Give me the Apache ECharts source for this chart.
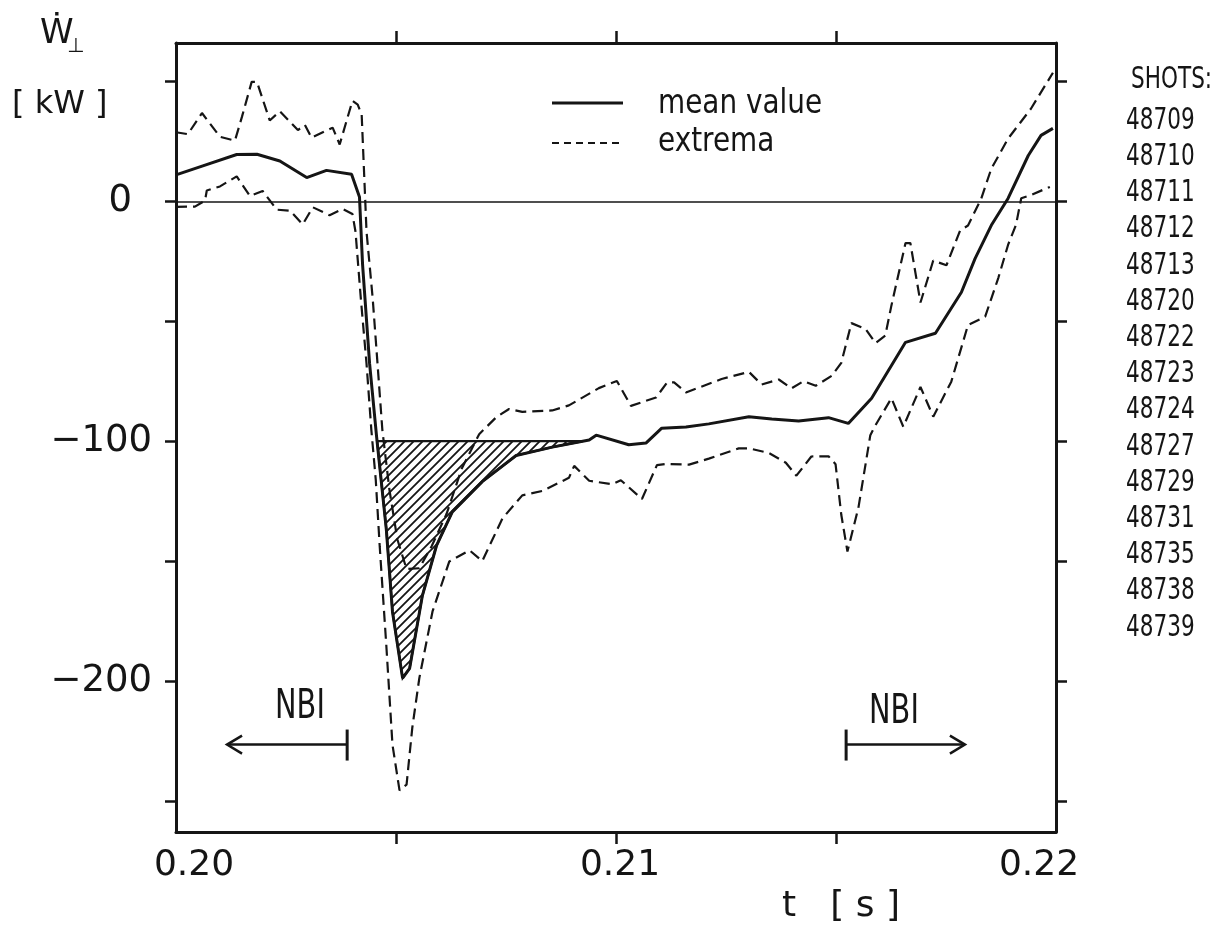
<!DOCTYPE html>
<html>
<head>
<meta charset="utf-8">
<script src="https://cdn.jsdelivr.net/npm/echarts@6/dist/echarts.min.js"></script>
<style>
  html, body { margin: 0; padding: 0; background: #ffffff; }
  #chart { width: 1224px; height: 930px; }
</style>
</head>
<body>
<div id="chart"></div>
<script>
// Time axis [s] and perpendicular energy change rate dW/dt [kW]
const meanTime = [0.20000,0.20061,0.20138,0.20184,0.20236,0.20297,0.20342,0.20399,0.20417,0.20424,
  0.20440,0.20456,0.20478,0.20492,0.20515,0.20531,0.20560,0.20592,0.20628,0.20696,
  0.20773,0.20855,0.20939,0.20955,0.21029,0.21068,0.21104,0.21159,0.21211,0.21302,
  0.21354,0.21415,0.21483,0.21528,0.21581,0.21658,0.21726,0.21785,0.21816,0.21853,
  0.21891,0.21937,0.21966,0.21993];
const meanPower = [11.0,14.8,19.5,19.6,16.8,9.9,12.9,11.3,1.8,-26.3,
  -67.7,-98.3,-136.8,-171.1,-198.8,-194.7,-164.4,-143.6,-129.5,-116.9,
  -106.0,-102.5,-99.5,-97.5,-101.5,-100.8,-94.6,-94.1,-92.8,-89.8,
  -90.8,-91.6,-90.2,-92.6,-82.1,-58.8,-55.0,-37.9,-23.9,-10.0,
  1.2,19.1,27.5,30.4];

const upperTime = [0.20000,0.20027,0.20059,0.20100,0.20134,0.20150,0.20172,0.20184,0.20213,0.20236,
  0.20277,0.20293,0.20308,0.20356,0.20372,0.20401,0.20413,0.20422,0.20433,0.20447,
  0.20458,0.20469,0.20485,0.20503,0.20524,0.20553,0.20581,0.20615,0.20649,0.20689,
  0.20728,0.20757,0.20787,0.20855,0.20893,0.20961,0.21002,0.21034,0.21091,0.21116,
  0.21132,0.21159,0.21240,0.21302,0.21331,0.21370,0.21399,0.21426,0.21454,0.21490,
  0.21512,0.21535,0.21567,0.21590,0.21612,0.21626,0.21658,0.21669,0.21692,0.21721,
  0.21751,0.21782,0.21800,0.21830,0.21853,0.21891,0.21943,0.21993];
const upperPower = [28.8,28.0,36.8,26.9,25.3,35.3,49.8,49.8,33.7,37.5,
  29.7,31.8,26.5,30.7,23.7,41.9,40.3,36.1,-12.6,-40.4,
  -67.7,-95.4,-120.2,-140.9,-153.3,-153.0,-143.8,-130.3,-111.6,-97.1,
  -90.0,-86.6,-87.8,-87.2,-85.1,-77.9,-74.9,-85.3,-81.8,-75.6,
  -75.5,-79.7,-74.1,-71.1,-76.4,-74.3,-78.0,-75.0,-76.9,-72.8,
  -67.4,-50.8,-53.2,-59.1,-56.0,-43.4,-17.4,-17.4,-42.2,-24.7,
  -26.7,-12.2,-10.1,1.1,13.6,26.1,38.6,53.6];

const lowerTime = [0.20000,0.20043,0.20066,0.20070,0.20100,0.20138,0.20168,0.20197,0.20229,0.20259,
  0.20288,0.20311,0.20349,0.20379,0.20401,0.20408,0.20420,0.20433,0.20444,0.20454,
  0.20463,0.20478,0.20492,0.20508,0.20524,0.20537,0.20553,0.20583,0.20621,0.20667,
  0.20696,0.20742,0.20787,0.20832,0.20893,0.20905,0.20939,0.20991,0.21011,0.21059,
  0.21093,0.21113,0.21166,0.21211,0.21279,0.21302,0.21347,0.21386,0.21410,0.21444,
  0.21483,0.21499,0.21512,0.21526,0.21551,0.21578,0.21590,0.21626,0.21653,0.21692,
  0.21721,0.21762,0.21800,0.21839,0.21869,0.21891,0.21909,0.21921,0.21943,0.21986];
const lowerPower = [-2.3,-2.2,0.3,4.5,6.2,10.4,2.2,4.3,-3.5,-3.9,
  -9.6,-2.5,-5.8,-3.2,-5.3,-12.7,-40.4,-67.7,-95.4,-116.1,
  -143.9,-185.2,-226.6,-245.6,-243.2,-219.5,-198.8,-171.0,-150.2,-145.5,
  -150.0,-132.2,-122.6,-120.8,-115.3,-110.3,-116.5,-118.0,-116.3,-124.1,
  -110.0,-109.5,-109.8,-107.3,-103.0,-103.0,-104.9,-109.0,-114.4,-106.4,
  -106.3,-109.6,-130.7,-146.0,-127.7,-97.5,-93.3,-82.1,-94.0,-77.4,
  -89.8,-75.2,-51.6,-48.1,-31.9,-18.2,-9.9,1.3,2.6,6.0];

// Axis ticks and labels
const xTickValues = [0.205, 0.21, 0.215];
const xLabelValues = [0.20, 0.21, 0.22];
const yTickValues = [-250, -200, -150, -100, -50, 0, 50];
const yLabelValues = [-200, -100, 0];

// Level bounding the hatched energy deficit under the mean curve
const hatchLevel = -100;

// NBI switch-off / switch-on markers (time of switch, arrow tip time, height)
const nbiOff = { at: 0.20389, tip: 0.20116, level: -226.5 };
const nbiOn  = { at: 0.21523, tip: 0.21793, level: -226.5 };

const shots = ['48709','48710','48711','48712','48713','48720','48722','48723',
  '48724','48727','48729','48731','48735','48738','48739'];

const INK = '#151515';
const SANS = '"DejaVu Sans", "Liberation Sans", sans-serif';

const zip = (ts, ws) => ts.map((t, i) => [t, ws[i]]);

// Region between the mean curve and the hatch level (first dip only)
function hatchRegion() {
  const pts = [];
  let inside = false;
  for (let i = 1; i < meanTime.length; i++) {
    const t0 = meanTime[i - 1], w0 = meanPower[i - 1];
    const t1 = meanTime[i], w1 = meanPower[i];
    const cross = () => [t0 + (t1 - t0) * (hatchLevel - w0) / (w1 - w0), hatchLevel];
    if (!inside && w0 >= hatchLevel && w1 < hatchLevel) { inside = true; pts.push(cross()); }
    if (inside) {
      if (w1 < hatchLevel) pts.push([t1, w1]);
      else { pts.push(cross()); break; }
    }
  }
  return pts;
}
const hatchPts = hatchRegion();

// Diagonal hatch tile
function hatchTile() {
  const s = 9;
  const c = document.createElement('canvas');
  c.width = s; c.height = s;
  const g = c.getContext('2d');
  g.strokeStyle = INK;
  g.lineWidth = 1.8;
  g.beginPath();
  g.moveTo(-1, s + 1); g.lineTo(s + 1, -1);
  g.moveTo(-1, 1); g.lineTo(1, -1);
  g.moveTo(s - 1, s + 1); g.lineTo(s + 1, s - 1);
  g.stroke();
  return c;
}
const hatchPattern = { image: hatchTile(), repeat: 'repeat' };

const chart = echarts.init(document.getElementById('chart'), null, { renderer: 'canvas' });

const axisLine = { show: true, onZero: false, lineStyle: { color: INK, width: 3 } };
const tickStyle = { color: INK, width: 2.5 };

chart.setOption({
  animation: false,
  backgroundColor: '#ffffff',
  grid: { left: 176, right: 168, top: 43, bottom: 93, containLabel: false },
  xAxis: [
    {
      type: 'value', min: 0.20, max: 0.22, position: 'bottom',
      axisLine: axisLine,
      axisTick: { show: true, inside: false, length: 12, lineStyle: tickStyle, customValues: xTickValues },
      axisLabel: {
        customValues: xLabelValues, margin: 16, color: INK,
        formatter: v => {
          const s = v.toFixed(2);
          if (Math.abs(v - 0.20) < 1e-9) return '{l|' + s + '}';
          if (Math.abs(v - 0.22) < 1e-9) return '{r|' + s + '}';
          return '{c|' + s + '}';
        },
        rich: {
          l: { fontSize: 36, fontFamily: SANS, color: INK, padding: [0, 0, 0, 36] },
          c: { fontSize: 36, fontFamily: SANS, color: INK, padding: [0, 0, 0, 8] },
          r: { fontSize: 36, fontFamily: SANS, color: INK, padding: [0, 34, 0, 0] }
        }
      },
      splitLine: { show: false },
      name: 't   [ s ]', nameLocation: 'middle', nameGap: 46,
      nameTextStyle: { fontSize: 36, fontFamily: SANS, color: INK, padding: [0, 0, 0, 450] }
    },
    {
      type: 'value', min: 0.20, max: 0.22, position: 'top',
      axisLine: axisLine,
      axisTick: { show: true, inside: false, length: 12, lineStyle: tickStyle, customValues: xTickValues },
      axisLabel: { show: false },
      splitLine: { show: false }
    }
  ],
  yAxis: [
    {
      type: 'value', min: -263, max: 66, position: 'left',
      axisLine: axisLine,
      axisTick: { show: true, inside: false, length: 11, lineStyle: tickStyle, customValues: yTickValues },
      axisLabel: {
        customValues: yLabelValues, margin: 24, color: INK,
        formatter: v => v === 0 ? '{z|0}' : '{n|\u2212' + Math.abs(v) + '}',
        rich: {
          z: { fontSize: 37, fontFamily: SANS, color: INK, padding: [0, 20, 0, 0] },
          n: { fontSize: 37, fontFamily: SANS, color: INK }
        }
      },
      splitLine: { show: false }
    },
    {
      type: 'value', min: -263, max: 66, position: 'right',
      axisLine: axisLine,
      axisTick: { show: true, inside: false, length: 11, lineStyle: tickStyle, customValues: yTickValues },
      axisLabel: { show: false },
      splitLine: { show: false }
    }
  ],
  series: [
    {
      name: 'deficit', type: 'custom', coordinateSystem: 'cartesian2d',
      xAxisIndex: 0, yAxisIndex: 0, silent: true, z: 1,
      data: [[hatchPts[0][0], hatchLevel]],
      renderItem: (params, api) => ({
        type: 'polygon',
        shape: { points: hatchPts.map(p => api.coord(p)) },
        style: { fill: hatchPattern, stroke: INK, lineWidth: 2.2 }
      })
    },
    {
      name: 'extrema', type: 'line', symbol: 'none', z: 3,
      data: zip(upperTime, upperPower),
      lineStyle: { color: INK, width: 2.2, type: [11, 6] }
    },
    {
      name: 'extrema', type: 'line', symbol: 'none', z: 3,
      data: zip(lowerTime, lowerPower),
      lineStyle: { color: INK, width: 2.2, type: [11, 6] }
    },
    {
      name: 'mean value', type: 'line', symbol: 'none', z: 4,
      data: zip(meanTime, meanPower),
      lineStyle: { color: INK, width: 3 },
      markLine: {
        silent: true, symbol: 'none', label: { show: false },
        lineStyle: { color: INK, width: 1.5, type: 'solid' },
        data: [{ yAxis: 0 }]
      }
    }
  ]
});

// Annotations: labels, legend, shot list and NBI arrows
const px = (t, w) => chart.convertToPixel({ gridIndex: 0 }, [t, w]);

function condText(x, y, text, size, sx, align) {
  return {
    type: 'text', x: x, y: y, scaleX: sx, silent: true,
    style: { text: text, font: size + 'px ' + SANS, fill: INK,
      align: align || 'left', verticalAlign: 'middle' }
  };
}

function nbiArrow(m, dir) {
  const a = px(m.at, m.level), b = px(m.tip, m.level);
  const hx = b[0] - dir * 15;
  return [
    { type: 'line', silent: true, shape: { x1: a[0], y1: a[1], x2: b[0], y2: b[1] }, style: { stroke: INK, lineWidth: 2.5 } },
    { type: 'line', silent: true, shape: { x1: a[0], y1: a[1] - 15, x2: a[0], y2: a[1] + 16 }, style: { stroke: INK, lineWidth: 3 } },
    { type: 'polyline', silent: true, shape: { points: [[hx, b[1] - 9], [b[0], b[1]], [hx, b[1] + 9]] }, style: { stroke: INK, lineWidth: 2.5, fill: null } }
  ];
}

const graphics = [];
// Axis quantity and unit
graphics.push({ type: 'text', x: 40, y: 34, silent: true,
  style: { text: '\u1E86', font: '34px ' + SANS, fill: INK, verticalAlign: 'middle' } });
graphics.push({ type: 'text', x: 67, y: 47, silent: true,
  style: { text: '\u22A5', font: '20px ' + SANS, fill: INK, verticalAlign: 'middle' } });
graphics.push({ type: 'text', x: 12, y: 105, silent: true,
  style: { text: '[ kW ]', font: '32px ' + SANS, fill: INK, verticalAlign: 'middle' } });

// Legend
graphics.push({ type: 'line', silent: true, shape: { x1: 552, y1: 103, x2: 623, y2: 103 }, style: { stroke: INK, lineWidth: 3 } });
graphics.push({ type: 'line', silent: true, shape: { x1: 552, y1: 143, x2: 622, y2: 143 }, style: { stroke: INK, lineWidth: 2, lineDash: [7, 5] } });
graphics.push(condText(658, 104, 'mean value', 34, 0.82));
graphics.push(condText(658, 142, 'extrema', 34, 0.82));

// Shot list
graphics.push(condText(1131, 80, 'SHOTS:', 30, 0.72));
shots.forEach((s, i) => graphics.push(condText(1126, 121 + i * 36.2, s, 30, 0.72)));

// NBI markers
nbiArrow(nbiOff, -1).forEach(g => graphics.push(g));
nbiArrow(nbiOn, 1).forEach(g => graphics.push(g));
const offTxt = px(0.20282, -211);
const onTxt = px(0.21632, -213);
graphics.push(condText(offTxt[0] - 25, offTxt[1], 'NBI', 40, 0.72));
graphics.push(condText(onTxt[0] - 25, onTxt[1], 'NBI', 40, 0.72));

chart.setOption({ graphic: graphics });
</script>
</body>
</html>
